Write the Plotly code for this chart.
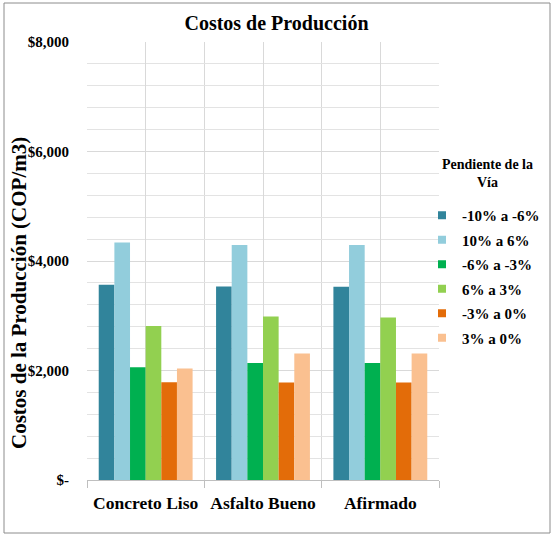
import plotly.graph_objects as go

categories = ["Concreto Liso", "Asfalto Bueno", "Afirmado"]
series_names = ["-10% a -6%", "10% a 6%", "-6% a -3%", "6% a 3%", "-3% a 0%", "3% a 0%"]
v_m10_m6 = [3565, 3535, 3530]
v_10_6 = [4340, 4290, 4290]
v_m6_m3 = [2060, 2135, 2135]
v_6_3 = [2815, 2985, 2970]
v_m3_0 = [1785, 1780, 1780]
v_3_0 = [2035, 2310, 2310]
series_values = [v_m10_m6, v_10_6, v_m6_m3, v_6_3, v_m3_0, v_3_0]
colors = ["#31849B", "#92CDDC", "#00B050", "#92D050", "#E36C09", "#FAC090"]
y_tickvals = [0, 2000, 4000, 6000, 8000]
y_ticktext = ["$-", "$2,000", "$4,000", "$6,000", "$8,000"]
legend_title = "Pendiente de la<br>Vía"

FONT = "Liberation Serif"
xpos = list(range(len(categories)))

W, H = 553, 536
ml, mr, mt, mb = 87, 114, 42, 56
pw, ph = W - ml - mr, H - mt - mb

def px_x(p):
    return (p - ml) / pw

def px_y(p):
    return (H - mb - p) / ph

fig = go.Figure()
for i, (name, vals, col) in enumerate(zip(series_names, series_values, colors)):
    fig.add_trace(go.Bar(x=xpos, y=vals, name=name, showlegend=False,
                         marker=dict(color=col, line=dict(width=0))))
for i, (name, col) in enumerate(zip(series_names, colors)):
    fig.add_trace(go.Scatter(x=[None], y=[None], mode="markers", name=f"<b>{name}</b>",
                             legendgroup=f"g{i}",
                             marker=dict(symbol="square", size=8, color=col)))

fig.update_layout(
    width=W, height=H,
    margin=dict(l=ml, r=mr, t=mt, b=mb, autoexpand=False),
    paper_bgcolor="white", plot_bgcolor="white",
    barmode="group", bargap=0.2, bargroupgap=0,
    font=dict(family=FONT, color="black"),
    title=dict(text="<b>Costos de Producción</b>", x=0.5, xref="container", xanchor="center",
               y=1 - 23 / H, yref="container", yanchor="middle", font=dict(size=20, family=FONT)),
    xaxis=dict(
        range=[-0.5, 2.5], tickvals=xpos, ticktext=[f"<b>{c}</b>" for c in categories],
        tickfont=dict(size=17.5, family=FONT), showgrid=True, gridcolor="#D9D9D9", gridwidth=1,
        zeroline=False, showline=False, ticks="", ticklabelstandoff=10,
        minor=dict(dtick=1, tick0=-0.5, showgrid=True, gridcolor="#D9D9D9", gridwidth=1,
                   ticks="outside", ticklen=7, tickcolor="#BFBFBF", tickwidth=1),
    ),
    yaxis=dict(
        range=[0, 8000], tickvals=y_tickvals, ticktext=[f"<b>{t}</b>" for t in y_ticktext],
        tickfont=dict(size=15, family=FONT), showgrid=True, gridcolor="#D9D9D9",
        zeroline=True, zerolinecolor="#BFBFBF", zerolinewidth=1, ticks="",
        ticklabelstandoff=17,
        minor=dict(dtick=400, showgrid=True, gridcolor="#E3E3E3", gridwidth=1),
    ),
    legend=dict(
        x=px_x(422), xanchor="left", y=px_y(199), yanchor="top",
        font=dict(size=15, family=FONT), bgcolor="rgba(0,0,0,0)",
        traceorder="grouped", tracegroupgap=2,
    ),
    annotations=[
        dict(text="<b>Costos de la Producción (COP/m3)</b>", textangle=-90,
             xref="paper", yref="paper", x=px_x(19), y=px_y(293),
             xanchor="center", yanchor="middle", showarrow=False,
             font=dict(size=21, family=FONT)),
        dict(text=f"<b>{legend_title}</b>", xref="paper", yref="paper",
             x=px_x(487), y=px_y(173), xanchor="center", yanchor="middle", align="center",
             showarrow=False, font=dict(size=14, family=FONT)),
    ],
    shapes=[dict(type="rect", xref="paper", yref="paper",
                 x0=px_x(4), x1=px_x(550), y0=px_y(533), y1=px_y(3),
                 line=dict(color="#8C8C8C", width=1), fillcolor="rgba(0,0,0,0)", layer="below")],
)

fig.write_html("out.html", config={"displayModeBar": False},
               post_script="document.body.style.margin='0px';")
